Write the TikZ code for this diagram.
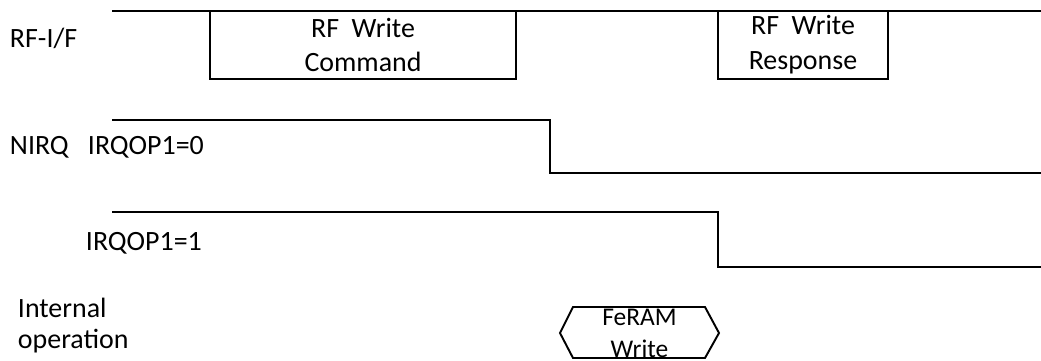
\documentclass[tikz,border=0pt]{standalone}
\usepackage{fontspec}
\setmainfont{Carlito}

\begin{document}
\begin{tikzpicture}[x=0.02cm,y=-0.02cm,line width=1.1pt,
  lbl/.style={anchor=base west,inner sep=0pt,font=\fontsize{15.9}{19.9}\selectfont},
  boxtxt/.style={align=center,inner sep=0pt,font=\fontsize{15.9}{19.9}\selectfont},
  optxt/.style={align=center,inner sep=0pt,font=\fontsize{14.5}{18.2}\selectfont}]
  \useasboundingbox (0,0) rectangle (1041,360);
  % rf-i/f
  \draw (112,11)--(1041,11);
  \draw (210,11) rectangle (516,79);
  \draw (718,11) rectangle (888,79);
  \node[boxtxt] (cmd) at (363,45) {RF\ \ Write\\Command};
  \node[boxtxt] (resp) at (803,45) {RF\ \ Write\\Response};
  % nirq
  \draw (112,120)--(550,120)--(550,173)--(1041,173);
  \draw (112,212)--(718,212)--(718,267)--(1041,267);
  % escritura feram
  \draw (573,307)--(705,307)--(719,333)--(705,358)--(573,358)--(560,333)--cycle;
  \node[optxt] (fw) at (639.5,333) {FeRAM\\Write};
  % etiquetas
  \node[lbl] (rfif) at (9,47) {RF-I/F};
  \node[lbl] (nirq) at (9,154) {NIRQ};
  \node[lbl] (op0) at (87,154) {IRQOP1=0};
  \node[lbl] (op1) at (85,250) {IRQOP1=1};
  \node[lbl] (intl) at (17,317) {Internal};
  \node[lbl] (oper) at (17,348) {operation};
\end{tikzpicture}
\end{document}
